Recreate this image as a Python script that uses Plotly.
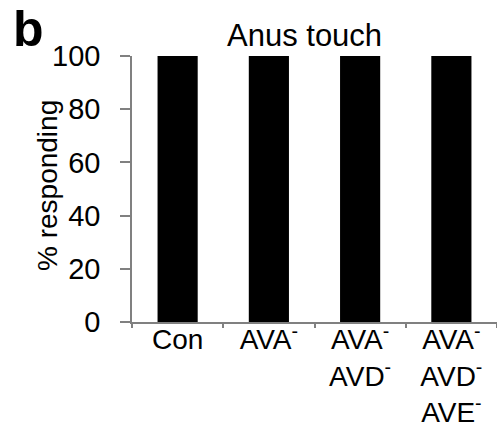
import plotly.graph_objects as go

categories = ["Con", "AVA<sup>-</sup>", "AVA<sup>-</sup><br>AVD<sup>-</sup>",
              "AVA<sup>-</sup><br>AVD<sup>-</sup><br>AVE<sup>-</sup>"]
values = [100, 100, 100, 100]
y_ticks = [0, 20, 40, 60, 80, 100]

FONT = "Liberation Sans, Arial, sans-serif"

fig = go.Figure(go.Bar(x=categories, y=values, marker=dict(color="black", line=dict(width=0)),
                       width=0.44))

fig.update_layout(
    width=497, height=428,
    margin=dict(l=132, r=0, t=56, b=106),
    paper_bgcolor="white", plot_bgcolor="white",
    showlegend=False,
    font=dict(family=FONT, size=29, color="black"),
    xaxis=dict(
        showline=True, linecolor="#808080", linewidth=1.5,
        ticks="outside", tickson="boundaries", ticklen=4, tickcolor="#808080", tickwidth=1.5,
        tickfont=dict(size=28, family=FONT, color="black"),
        ticklabelstandoff=-8,
        showgrid=False, zeroline=False, automargin=False,
    ),
    yaxis=dict(
        range=[0, 100], tickvals=y_ticks,
        showline=True, linecolor="#808080", linewidth=1.5,
        ticks="outside", ticklen=10, tickcolor="#808080", tickwidth=1.5,
        tickfont=dict(size=29, family=FONT, color="black"),
        ticklabelstandoff=14,
        showgrid=False, zeroline=False, automargin=False,
    ),
    annotations=[
        dict(text="Anus touch", x=304, y=36, showarrow=False,
             font=dict(size=31, family=FONT, color="black")),
        dict(text="<b>b</b>", x=28, y=29, showarrow=False,
             font=dict(size=50, family=FONT, color="black")),
        dict(text="% responding", x=47, y=186, showarrow=False, textangle=-90,
             font=dict(size=28, family=FONT, color="black")),
    ],
)

# convert pixel annotation positions to paper coords
W, H = 497, 428
L, R, T, B = 132, 0, 56, 106
pw, ph = W - L - R, H - T - B
for a in fig.layout.annotations:
    px, py = a.x, a.y
    a.x = (px - L) / pw
    a.y = 1 - (py - T) / ph
    a.xref = "paper"
    a.yref = "paper"
    a.xanchor = "center"
    a.yanchor = "middle"

fig.write_html("out.html")
